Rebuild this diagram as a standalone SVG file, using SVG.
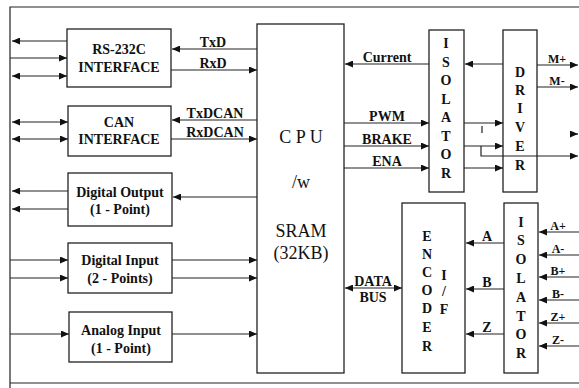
<svg xmlns="http://www.w3.org/2000/svg" width="579" height="388" viewBox="0 0 579 388">
<defs>
<marker id="ah" markerWidth="8" markerHeight="7" refX="8" refY="3.5" orient="auto-start-reverse" markerUnits="userSpaceOnUse">
<path d="M0,0 L8,3.5 L0,7 z" fill="#111"/>
</marker>
<style>
.b{fill:none;stroke:#222;stroke-width:1.3}
.c line,.c path{stroke:#222;stroke-width:1.2;fill:none}
.a{marker-end:url(#ah)}
.d{marker-start:url(#ah);marker-end:url(#ah)}
text{font-family:"Liberation Serif","Times New Roman",serif;fill:#111;font-size:14px;font-weight:bold;text-anchor:middle}
.s{font-size:12px}
.big{font-size:18px;font-weight:normal}
</style>
</defs>
<rect width="579" height="388" fill="#fff"/>
<g id="frame" class="c">
<path d="M579,7 L10,7 L10,388"/>
<line x1="10" y1="383" x2="579" y2="383"/>
</g>

<g id="rs232">
<rect class="b" x="67" y="29" width="104" height="58"/>
<text x="119" y="54">RS-232C</text>
<text x="119" y="72">INTERFACE</text>
</g>
<g id="can">
<rect class="b" x="68" y="106" width="103" height="50"/>
<text x="119" y="127">CAN</text>
<text x="119" y="144">INTERFACE</text>
</g>
<g id="dout">
<rect class="b" x="68" y="173" width="104" height="53"/>
<text x="120" y="197">Digital Output</text>
<text x="120" y="214">(1 - Point)</text>
</g>
<g id="din">
<rect class="b" x="68" y="243" width="104" height="50"/>
<text x="120" y="265">Digital Input</text>
<text x="120" y="283">(2 - Points)</text>
</g>
<g id="ain">
<rect class="b" x="69" y="312" width="103" height="50"/>
<text x="121" y="335">Analog Input</text>
<text x="121" y="353">(1 - Point)</text>
</g>
<g id="cpu">
<rect class="b" x="257" y="24" width="87" height="349"/>
<text class="big" x="301" y="143">C P U</text>
<text class="big" x="301" y="188">/w</text>
<text class="big" x="301" y="237">SRAM</text>
<text class="big" x="301" y="259">(32KB)</text>
</g>
<g id="isolator1">
<rect class="b" x="429" y="30" width="35" height="162"/>
<text x="446" y="48">I</text>
<text x="446" y="67">S</text>
<text x="446" y="85">O</text>
<text x="446" y="104">L</text>
<text x="446" y="122">A</text>
<text x="446" y="141">T</text>
<text x="446" y="159">O</text>
<text x="446" y="178">R</text>
</g>
<g id="driver">
<rect class="b" x="503" y="30" width="34" height="162"/>
<text x="520" y="77">D</text>
<text x="520" y="95">R</text>
<text x="520" y="113">I</text>
<text x="520" y="132">V</text>
<text x="520" y="151">E</text>
<text x="520" y="170">R</text>
</g>
<g id="encoder">
<rect class="b" x="402" y="203" width="63" height="170"/>
<text x="427" y="241">E</text>
<text x="427" y="259">N</text>
<text x="427" y="277">C</text>
<text x="427" y="295">O</text>
<text x="427" y="313">D</text>
<text x="427" y="332">E</text>
<text x="427" y="351">R</text>
<text x="444" y="280">I</text>
<text x="444" y="296">/</text>
<text x="444" y="314">F</text>
</g>
<g id="isolator2">
<rect class="b" x="504" y="203" width="34" height="170"/>
<text x="521" y="227">I</text>
<text x="521" y="245">S</text>
<text x="521" y="264">O</text>
<text x="521" y="283">L</text>
<text x="521" y="302">A</text>
<text x="521" y="321">T</text>
<text x="521" y="339">O</text>
<text x="521" y="358">R</text>
</g>

<g id="connectors" class="c">
<line class="a" x1="67" y1="41" x2="12" y2="41"/>
<line class="a" x1="10" y1="58" x2="67" y2="58"/>
<line class="d" x1="12" y1="76" x2="67" y2="76"/>
<line class="d" x1="12" y1="122" x2="68" y2="122"/>
<line class="d" x1="12" y1="139" x2="68" y2="139"/>
<line class="a" x1="68" y1="191" x2="12" y2="191"/>
<line class="a" x1="68" y1="209" x2="12" y2="209"/>
<line class="a" x1="10" y1="260" x2="68" y2="260"/>
<line class="a" x1="10" y1="278" x2="68" y2="278"/>
<line class="a" x1="10" y1="334" x2="69" y2="334"/>

<line class="a" x1="257" y1="49" x2="172" y2="49"/>
<line class="a" x1="171" y1="70" x2="257" y2="70"/>
<line class="a" x1="257" y1="120" x2="172" y2="120"/>
<line class="a" x1="171" y1="139" x2="257" y2="139"/>
<line class="a" x1="257" y1="197" x2="173" y2="197"/>
<line class="a" x1="172" y1="260" x2="257" y2="260"/>
<line class="a" x1="172" y1="278" x2="257" y2="278"/>
<line class="a" x1="172" y1="334" x2="257" y2="334"/>

<line class="a" x1="429" y1="64" x2="345" y2="64"/>
<line class="a" x1="503" y1="64" x2="465" y2="64"/>
<line class="a" x1="537" y1="65" x2="578" y2="65"/>
<line class="a" x1="537" y1="87" x2="578" y2="87"/>
<line class="a" x1="344" y1="123" x2="429" y2="123"/>
<line class="a" x1="344" y1="146" x2="429" y2="146"/>
<line class="a" x1="344" y1="168" x2="429" y2="168"/>
<line class="a" x1="464" y1="123" x2="503" y2="123"/>
<line class="a" x1="464" y1="146" x2="503" y2="146"/>
<line class="a" x1="464" y1="168" x2="503" y2="168"/>
<line x1="482" y1="126" x2="482" y2="133"/>
<path class="a" d="M481,146 L481,156 L578,156"/>
<line class="a" x1="570" y1="134" x2="578" y2="134"/>

<line class="d" x1="345" y1="288" x2="402" y2="288"/>
<line class="a" x1="504" y1="243" x2="466" y2="243"/>
<line class="a" x1="504" y1="289" x2="466" y2="289"/>
<line class="a" x1="504" y1="334" x2="466" y2="334"/>
<line class="a" x1="579" y1="232" x2="539" y2="232"/>
<line class="a" x1="579" y1="255" x2="539" y2="255"/>
<line class="a" x1="579" y1="277" x2="539" y2="277"/>
<line class="a" x1="579" y1="300" x2="539" y2="300"/>
<line class="a" x1="579" y1="323" x2="539" y2="323"/>
<line class="a" x1="579" y1="346" x2="539" y2="346"/>
</g>

<g id="labels">
<text x="213" y="47">TxD</text>
<text x="213" y="68">RxD</text>
<text x="215" y="118">TxDCAN</text>
<text x="215" y="137">RxDCAN</text>
<text x="387" y="62">Current</text>
<text x="387" y="121">PWM</text>
<text x="387" y="144">BRAKE</text>
<text x="387" y="166">ENA</text>
<text class="s" x="557" y="63">M+</text>
<text class="s" x="557" y="85">M-</text>
<text x="373" y="286">DATA</text>
<text x="373" y="302">BUS</text>
<text x="487" y="241">A</text>
<text x="487" y="287">B</text>
<text x="487" y="332">Z</text>
<text class="s" x="558" y="230">A+</text>
<text class="s" x="558" y="253">A-</text>
<text class="s" x="558" y="275">B+</text>
<text class="s" x="558" y="298">B-</text>
<text class="s" x="558" y="321">Z+</text>
<text class="s" x="558" y="344">Z-</text>
</g>
</svg>
